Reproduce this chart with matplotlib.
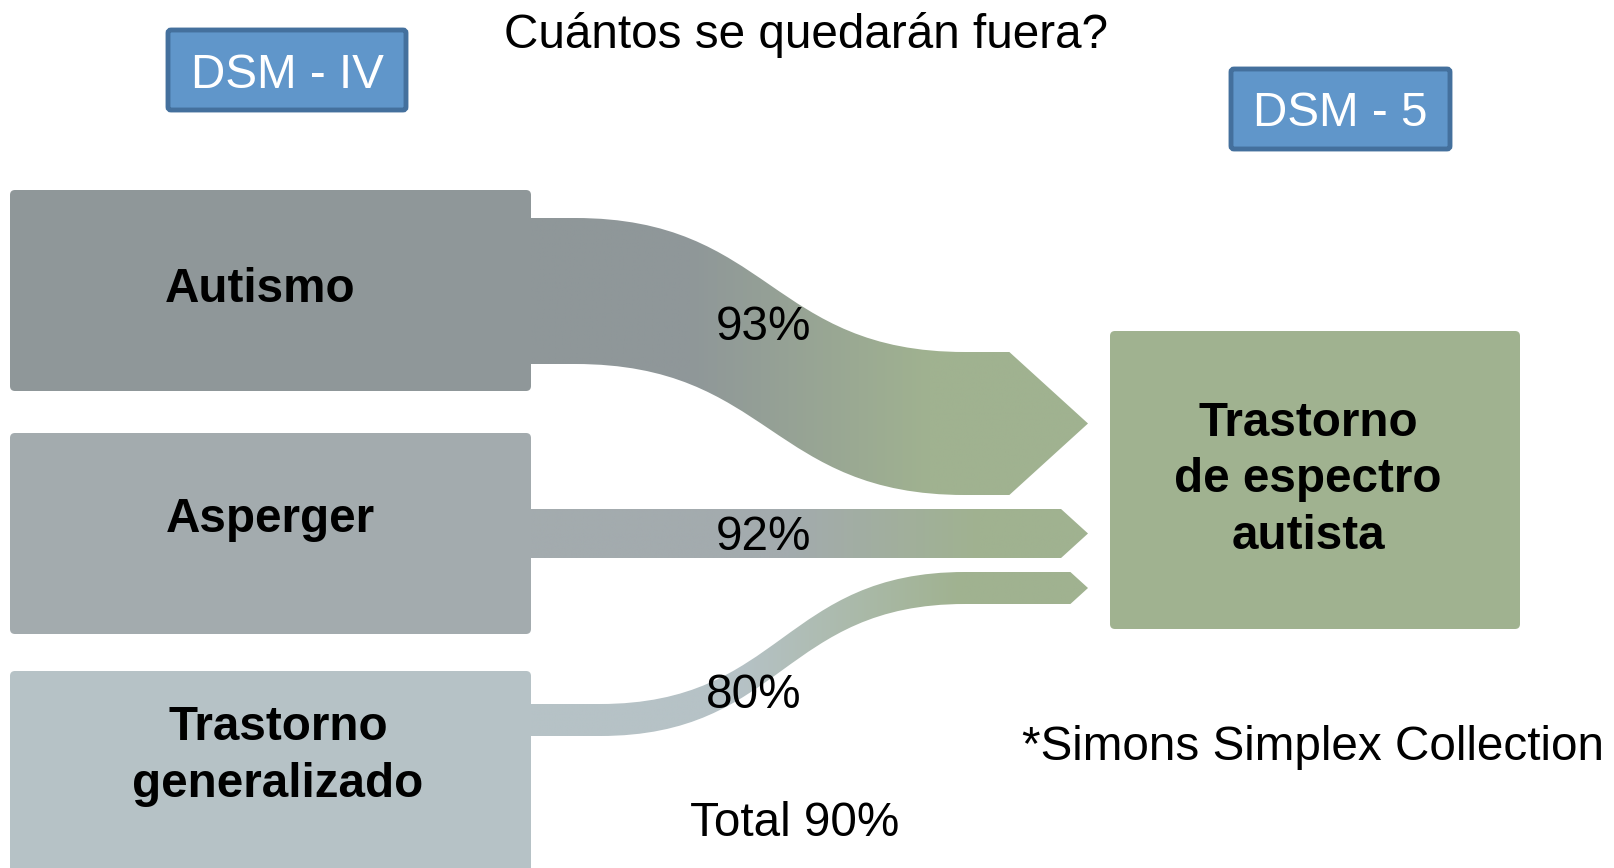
import numpy as np
import matplotlib
matplotlib.use("Agg")
import matplotlib.pyplot as plt
from matplotlib.patches import FancyBboxPatch, PathPatch
from matplotlib.path import Path
from matplotlib.colors import to_rgb

# ---- data ----
categories = ["Autismo", "Asperger", "Trastorno\ngeneralizado"]
percentages = [93, 92, 80]
total_pct = 90
target = "Trastorno\nde espectro\nautista"
title = "Cuántos se quedarán fuera?"
source = "*Simons Simplex Collection"
header_left = "DSM - IV"
header_right = "DSM - 5"

# ---- layout (pixel space) ----
W, H = 1614, 868
fig = plt.figure(figsize=(W / 100, H / 100), dpi=100)
ax = fig.add_axes([0, 0, 1, 1])
ax.set_xlim(0, W)
ax.set_ylim(H, 0)
ax.axis("off")

FONT = "Liberation Sans"
FS = 34.3
LS = 1.33

box_colors = ["#8f9799", "#a3abae", "#b6c2c6"]
green = "#a0b290"
box_tops = [190, 433, 671]
box_bots = [391, 634, 880]
box_x0, box_x1 = 10, 531

# flows: (left top, left bottom, right top, right bottom, curve start, curve end, grad start, grad end)
flows = [
    (218, 364, 352, 495, 575, 965, 690, 930),
    (509, 558, 509, 558, 575, 965, 790, 980),
    (704, 736, 572, 604, 600, 965, 740, 960),
]
tip_x = 1088

for i, (cat, pct) in enumerate(zip(categories, percentages)):
    b = FancyBboxPatch((box_x0, box_tops[i]), box_x1 - box_x0, box_bots[i] - box_tops[i],
                       boxstyle="round,pad=0,rounding_size=5", fc=box_colors[i], ec="none", zorder=2)
    ax.add_patch(b)

    yt0, yb0, yt1, yb1, xa, xb, g0, g1 = flows[i]
    xm = (xa + xb) / 2
    ymid = (yt1 + yb1) / 2
    half = (yb1 - yt1) / 2
    xs = tip_x - half * 1.1
    verts = [
        (box_x1 - 2, yt0), (xa, yt0),
        (xm, yt0), (xm, yt1), (xb, yt1),
        (xs, yt1), (tip_x, ymid), (xs, yb1), (xb, yb1),
        (xm, yb1), (xm, yb0), (xa, yb0),
        (box_x1 - 2, yb0), (box_x1 - 2, yt0),
    ]
    codes = [Path.MOVETO, Path.LINETO,
             Path.CURVE4, Path.CURVE4, Path.CURVE4,
             Path.LINETO, Path.LINETO, Path.LINETO, Path.LINETO,
             Path.CURVE4, Path.CURVE4, Path.CURVE4,
             Path.LINETO, Path.CLOSEPOLY]
    path = Path(verts, codes)
    patch = PathPatch(path, fc="none", ec="none")
    ax.add_patch(patch)

    xs_grid = np.linspace(box_x1 - 2, tip_x, 600)
    t = np.clip((xs_grid - g0) / (g1 - g0), 0, 1)
    c0 = np.array(to_rgb(box_colors[i]))
    c1 = np.array(to_rgb(green))
    img = (c0[None, :] * (1 - t[:, None]) + c1[None, :] * t[:, None])[None, :, :]
    ymin = min(yt0, yt1) - 2
    ymax = max(yb0, yb1) + 2
    im = ax.imshow(img, extent=[box_x1 - 2, tip_x, ymax, ymin], aspect="auto",
                   interpolation="bilinear", zorder=1)
    im.set_clip_path(patch)

# labels on source boxes
ax.text(260, 289, categories[0], ha="center", va="center", fontsize=FS,
        fontweight="bold", family=FONT, zorder=5)
ax.text(270, 519, categories[1], ha="center", va="center", fontsize=FS,
        fontweight="bold", family=FONT, zorder=5)
ax.text(278, 756, categories[2], ha="center", va="center", fontsize=FS,
        fontweight="bold", family=FONT, zorder=5, linespacing=LS)

# percentage labels
pct_pos = [(763, 328), (763, 538), (754, 696)]
for (x, y), pct in zip(pct_pos, percentages):
    ax.text(x, y, f"{pct}%", ha="center", va="center", fontsize=FS, family=FONT, zorder=5)

ax.text(795, 824, f"Total {total_pct}%", ha="center", va="center", fontsize=FS,
        family=FONT, zorder=5)

# target box
tb = FancyBboxPatch((1110, 331), 410, 298, boxstyle="round,pad=0,rounding_size=5",
                    fc=green, ec="none", zorder=2)
ax.add_patch(tb)
ax.text(1308, 480, target, ha="center", va="center", fontsize=FS, fontweight="bold",
        family=FONT, zorder=5, linespacing=LS)

# header boxes
for (x0, y0, w, h), txt in [((168, 30, 238, 80), header_left), ((1231, 69, 219, 80), header_right)]:
    hb = FancyBboxPatch((x0, y0), w, h, boxstyle="round,pad=0,rounding_size=3",
                        fc="#6096ca", ec="#44709d", lw=3.5, zorder=3)
    ax.add_patch(hb)
    ax.text(x0 + w / 2, y0 + h / 2 + 5, txt, ha="center", va="center", fontsize=FS,
            color="white", family=FONT, zorder=5)

ax.text(806, 35, title, ha="center", va="center", fontsize=FS, family=FONT, zorder=5)
ax.text(1313, 747, source, ha="center", va="center", fontsize=FS, family=FONT, zorder=5)

fig.savefig("out.png", dpi=100, facecolor="white")
